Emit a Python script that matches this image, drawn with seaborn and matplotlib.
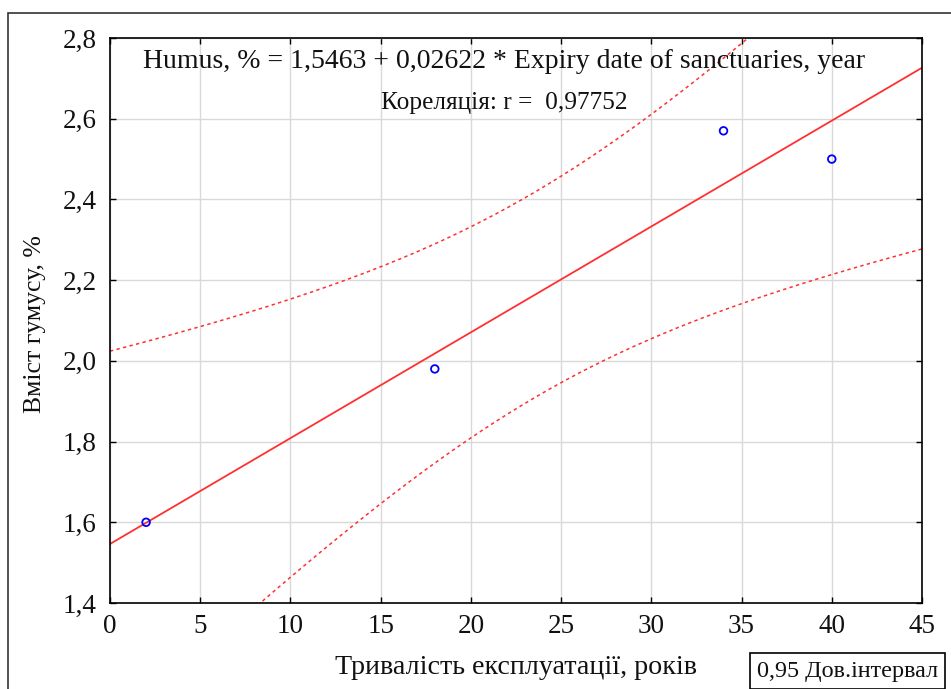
import numpy as np
import pandas as pd
import matplotlib
matplotlib.use("Agg")
import matplotlib.pyplot as plt
import seaborn as sns
from matplotlib.patches import Rectangle

# Data
years = [2, 18, 34, 40]
humus = [1.60, 1.98, 2.57, 2.50]
x_ticks = [0, 5, 10, 15, 20, 25, 30, 35, 40, 45]
y_ticks = [1.4, 1.6, 1.8, 2.0, 2.2, 2.4, 2.6, 2.8]
eq_text = "Humus, % = 1,5463 + 0,02622 * Expiry date of sanctuaries, year"
r_text = "Кореляція: r =  0,97752"
x_label = "Тривалість експлуатації, років"
y_label = "Вміст гумусу, %"
legend_text = "0,95 Дов.інтервал"

sns.set_theme(style="white")
plt.rcParams['font.family'] = ['Liberation Serif', 'DejaVu Serif']

# Regression with 95% confidence band (analytic)
x = np.array(years, float)
y = np.array(humus, float)
n = len(x)
slope, intercept = np.polyfit(x, y, 1)
resid = y - (intercept + slope * x)
s = np.sqrt(np.sum(resid ** 2) / (n - 2))
sxx = np.sum((x - x.mean()) ** 2)
t_crit = 4.302653  # t(0.975, df=2)
xg = np.linspace(0, 45, 300)
yg = intercept + slope * xg
se = s * np.sqrt(1 / n + (xg - x.mean()) ** 2 / sxx)
fit = pd.DataFrame({"x": xg, "fit": yg, "lo": yg - t_crit * se, "hi": yg + t_crit * se})
pts = pd.DataFrame({"x": years, "y": humus})

fig = plt.figure(figsize=(9.51, 6.89), dpi=100)
ax = fig.add_axes([110 / 951, 1 - 603 / 689, (922 - 110) / 951, (603 - 38) / 689])

ax.grid(True, color="#d9d9d9", linewidth=1)
ax.set_axisbelow(True)

sns.lineplot(data=fit, x="x", y="fit", color="#ff3030", linewidth=1.3, ax=ax)
sns.lineplot(data=fit, x="x", y="lo", color="#ff3030", linewidth=1.1, ax=ax)
sns.lineplot(data=fit, x="x", y="hi", color="#ff3030", linewidth=1.1, ax=ax)
for line in ax.lines[1:3]:
    line.set_linestyle((0, (2.2, 2.2)))
sns.scatterplot(data=pts, x="x", y="y", ax=ax, s=30, facecolor="none",
                edgecolor="#0000ff", linewidth=1.3, marker="o", zorder=5)

ax.set_xlim(0, 45)
ax.set_ylim(1.4, 2.8)
ax.set_xticks(x_ticks)
ax.set_yticks(y_ticks)
ax.set_xticklabels([str(v) for v in x_ticks])
ax.set_yticklabels([f"{v:.1f}".replace(".", ",") for v in y_ticks])
ax.tick_params(direction="in", length=4, width=1, color="black", labelsize=19.5,
               top=True, right=True, bottom=True, left=True, labelcolor="#111111")
ax.tick_params(axis="y", pad=9.5)
ax.tick_params(axis="x", pad=8)
for sp in ax.spines.values():
    sp.set_color("black")
    sp.set_linewidth(1.2)
ax.set_xlabel("")
ax.set_ylabel("")

fig.text(504 / 951, 1 - 62 / 689, eq_text, ha="center", va="center", fontsize=20, color="#111111")
fig.text(504 / 951, 1 - 103 / 689, r_text, ha="center", va="center", fontsize=18.3, color="#111111")
fig.text(516 / 951, 1 - 668 / 689, x_label, ha="center", va="center", fontsize=20.2, color="#111111")
fig.text(35 / 951, 1 - 324 / 689, y_label, ha="center", va="center", rotation=90, fontsize=18.5, color="#111111")

fig.text(757 / 951, 1 - 671 / 689, legend_text, ha="left", va="center", fontsize=17.4, color="#111111",
         bbox=dict(boxstyle="square,pad=0.3", facecolor="white", edgecolor="black", linewidth=1.2))

fig.patches.append(Rectangle((8 / 951, -0.05), 1.0, 1 - 13 / 689 + 0.05, transform=fig.transFigure,
                             fill=False, edgecolor="#333333", linewidth=1.2, figure=fig, zorder=0))

fig.savefig("out.png", dpi=100)
